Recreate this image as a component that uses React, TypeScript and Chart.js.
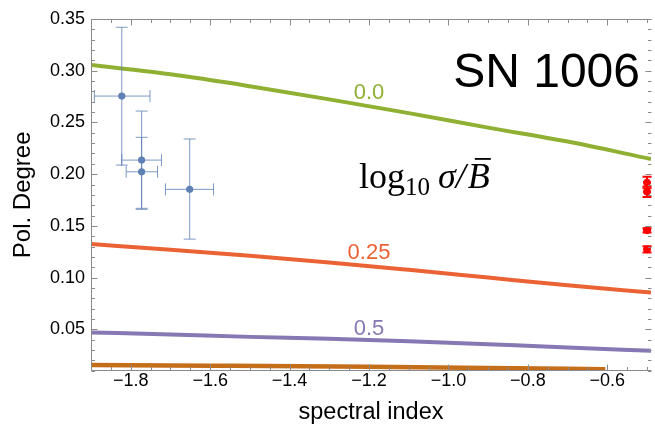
import React, { useEffect, useRef } from 'react';
import { Chart, registerables } from 'chart.js';

Chart.register(...registerables);

// ---- data ----
const curveX = [-1.9, -1.7, -1.5, -1.3, -1.1, -0.9, -0.7, -0.49];
const curve00 = [0.3055, 0.2965, 0.285, 0.2723, 0.259, 0.245, 0.2315, 0.2146];
const curve025 = [0.1324, 0.127, 0.1212, 0.1147, 0.1075, 0.1, 0.0925, 0.0855];
const curve05 = [0.047, 0.045, 0.0427, 0.041, 0.0385, 0.0355, 0.0325, 0.0292];
const curveBottomX = [-1.9, -1.6, -1.2, -0.9, -0.605];
const curveBottom = [0.0155, 0.0149, 0.0139, 0.0127, 0.0113];

const obsX = [-1.8225, -1.7725, -1.7725, -1.6515];
const obsY = [0.2755, 0.2136, 0.2023, 0.1853];
const obsYLow = [0.2088, 0.166, 0.167, 0.1372];
const obsYHigh = [0.342, 0.261, 0.2356, 0.234];
const obsXLow = [-1.8915, -1.8225, -1.8115, -1.7125];
const obsXHigh = [-1.7515, -1.7225, -1.7325, -1.5915];

const simX = [-0.5, -0.5, -0.5, -0.5];
const simY = [0.192, 0.183, 0.1457, 0.1273];
const simYErr = [0.0055, 0.005, 0.002, 0.003];
const simXErr = [0.01, 0.01, 0.01, 0.01];

const xTicks = [-1.8, -1.6, -1.4, -1.2, -1.0, -0.8, -0.6];
const yTicks = [0.05, 0.1, 0.15, 0.2, 0.25, 0.3, 0.35];

const curveLabels = ['0.0', '0.25', '0.5'];
const curveLabelX = [-1.2, -1.2, -1.2];
const curveLabelY = [0.2726, 0.1179, 0.0444];

const titleText = 'SN 1006';
const titleX = -0.988;
const titleY = 0.2842;
const formulaX = -1.225;
const formulaY = 0.1866;

const GREEN = '#8FB032';
const RED = '#EB6235';
const PURPLE = '#8778B3';
const DORANGE = '#C56E1A';
const BLUE = '#5E81B5';
const SANS = '"Liberation Sans", Arial, Helvetica, sans-serif';
const SERIF = '"Liberation Serif", "Times New Roman", serif';
const labelColors = [GREEN, RED, PURPLE];

const toXY = (xs: number[], ys: number[]) => xs.map((x, i) => ({ x, y: ys[i] }));

const decorPlugin = {
  id: 'decor',
  beforeDatasetDraw(chart: any, args: any) {
    const ctx = chart.ctx;
    const xs = chart.scales.x;
    const ys = chart.scales.y;
    if (args.index === 0) {
      ctx.save();
      ctx.strokeStyle = 'rgba(94,129,181,0.8)';
      ctx.lineWidth = 1;
      const cap = 6;
      obsX.forEach((x, i) => {
        const px = xs.getPixelForValue(x);
        const py = ys.getPixelForValue(obsY[i]);
        const yl = ys.getPixelForValue(obsYLow[i]);
        const yh = ys.getPixelForValue(obsYHigh[i]);
        const xl = xs.getPixelForValue(obsXLow[i]);
        const xh = xs.getPixelForValue(obsXHigh[i]);
        ctx.beginPath();
        ctx.moveTo(px, yl); ctx.lineTo(px, yh);
        ctx.moveTo(px - cap, yl); ctx.lineTo(px + cap, yl);
        ctx.moveTo(px - cap, yh); ctx.lineTo(px + cap, yh);
        ctx.moveTo(xl, py); ctx.lineTo(xh, py);
        ctx.moveTo(xl, py - cap); ctx.lineTo(xl, py + cap);
        ctx.moveTo(xh, py - cap); ctx.lineTo(xh, py + cap);
        ctx.stroke();
      });
      ctx.restore();
    }
    if (args.index === 1) {
      ctx.save();
      ctx.strokeStyle = 'rgb(255,0,0)';
      ctx.lineWidth = 2;
      const cap = 4.5;
      simX.forEach((x, i) => {
        const px = xs.getPixelForValue(x);
        const py = ys.getPixelForValue(simY[i]);
        const yl = ys.getPixelForValue(simY[i] - simYErr[i]);
        const yh = ys.getPixelForValue(simY[i] + simYErr[i]);
        const xl = xs.getPixelForValue(x - simXErr[i]);
        const xh = xs.getPixelForValue(x + simXErr[i]);
        ctx.beginPath();
        ctx.moveTo(px, yl); ctx.lineTo(px, yh);
        ctx.moveTo(px - cap, yl); ctx.lineTo(px + cap, yl);
        ctx.moveTo(px - cap, yh); ctx.lineTo(px + cap, yh);
        ctx.moveTo(xl, py); ctx.lineTo(xh, py);
        ctx.stroke();
      });
      ctx.restore();
    }
  },
  afterDatasetsDraw(chart: any) {
    const ctx = chart.ctx;
    const { left, right, top, bottom } = chart.chartArea;
    const xs = chart.scales.x;
    const ys = chart.scales.y;
    const L = Math.round(left) + 0.5;
    const R = Math.round(right) + 0.5;
    const T = Math.round(top) + 0.5;
    const B = Math.round(bottom) - 0.5;
    ctx.save();
    ctx.strokeStyle = '#8a8a8a';
    ctx.lineWidth = 1;
    ctx.beginPath();
    ctx.moveTo(L, T); ctx.lineTo(R, T);
    ctx.moveTo(L, B); ctx.lineTo(R, B);
    ctx.moveTo(L, T); ctx.lineTo(L, B);
    // x ticks (major every 0.2, minor every 0.05)
    for (let k = -38; k <= -10; k++) {
      const v = k * 0.05;
      if (v < xs.min - 1e-9 || v > xs.max + 1e-9) continue;
      const major = k % 4 === 0;
      const len = major ? 6 : 3.5;
      const p = Math.round(xs.getPixelForValue(v)) + 0.5;
      ctx.moveTo(p, B); ctx.lineTo(p, B - len);
      ctx.moveTo(p, T); ctx.lineTo(p, T + len);
    }
    // y ticks (major every 0.05, minor every 0.01)
    for (let k = 1; k <= 35; k++) {
      const v = k * 0.01;
      const major = k % 5 === 0;
      const len = major ? 6 : 3.5;
      const p = Math.round(ys.getPixelForValue(v)) + 0.5;
      ctx.moveTo(L, p); ctx.lineTo(L + len, p);
      ctx.moveTo(R, p); ctx.lineTo(R - len, p);
    }
    ctx.stroke();
    ctx.restore();
  },
  afterDraw(chart: any) {
    const ctx = chart.ctx;
    const xs = chart.scales.x;
    const ys = chart.scales.y;
    ctx.save();
    ctx.textBaseline = 'alphabetic';
    // curve labels
    ctx.textAlign = 'center';
    ctx.font = `22px ${SANS}`;
    curveLabels.forEach((t, i) => {
      ctx.fillStyle = labelColors[i];
      ctx.fillText(t, xs.getPixelForValue(curveLabelX[i]), ys.getPixelForValue(curveLabelY[i]));
    });
    // title
    ctx.textAlign = 'left';
    ctx.fillStyle = '#000';
    ctx.font = `48px ${SANS}`;
    ctx.fillText(titleText, xs.getPixelForValue(titleX), ys.getPixelForValue(titleY));
    // formula log10 sigma / B-bar
    let x = xs.getPixelForValue(formulaX);
    const y = ys.getPixelForValue(formulaY);
    ctx.font = `36px ${SERIF}`;
    ctx.fillText('log', x, y);
    x += ctx.measureText('log').width;
    ctx.font = `25px ${SERIF}`;
    ctx.fillText('10', x, y + 7);
    x += ctx.measureText('10').width + 8;
    ctx.font = `italic 36px ${SERIF}`;
    ctx.fillText('σ', x, y);
    x += ctx.measureText('σ').width;
    ctx.fillText('/', x, y);
    x += ctx.measureText('/').width + 2;
    const bw = ctx.measureText('B').width;
    ctx.fillText('B', x, y);
    ctx.fillRect(x + 7, y - 30, bw - 6, 1.8);
    ctx.restore();
  },
};

export default function App() {
  const ref = useRef<HTMLCanvasElement | null>(null);
  useEffect(() => {
    document.body.style.margin = '0';
    const canvas = ref.current;
    if (!canvas) return;
    const chart = new Chart(canvas, {
      type: 'scatter',
      data: {
        datasets: [
          {
            label: 'obs',
            data: toXY(obsX, obsY),
            backgroundColor: BLUE,
            borderColor: BLUE,
            pointRadius: 3.6,
            pointBorderWidth: 0,
            showLine: false,
          },
          {
            label: 'sim',
            data: toXY(simX, simY),
            backgroundColor: 'rgb(255,0,0)',
            borderColor: 'rgb(255,0,0)',
            pointRadius: 3.8,
            pointBorderWidth: 0,
            showLine: false,
            clip: false,
          },
          {
            label: '0.0',
            data: toXY(curveX, curve00),
            borderColor: GREEN,
            borderWidth: 4,
            pointRadius: 0,
            showLine: true,
            cubicInterpolationMode: 'monotone',
            clip: 0,
          },
          {
            label: '0.25',
            data: toXY(curveX, curve025),
            borderColor: RED,
            borderWidth: 4,
            pointRadius: 0,
            showLine: true,
            cubicInterpolationMode: 'monotone',
            clip: 0,
          },
          {
            label: '0.5',
            data: toXY(curveX, curve05),
            borderColor: PURPLE,
            borderWidth: 4,
            pointRadius: 0,
            showLine: true,
            cubicInterpolationMode: 'monotone',
            clip: 0,
          },
          {
            label: 'bottom',
            data: toXY(curveBottomX, curveBottom),
            borderColor: DORANGE,
            borderWidth: 4.5,
            pointRadius: 0,
            showLine: true,
            cubicInterpolationMode: 'monotone',
            clip: 0,
          },
        ],
      } as any,
      options: {
        responsive: false,
        animation: false,
        devicePixelRatio: 1,
        layout: { padding: { top: 19, left: 0, right: 0, bottom: 0 } },
        plugins: { legend: { display: false }, tooltip: { enabled: false } },
        scales: {
          x: {
            type: 'linear',
            min: -1.9,
            max: -0.49,
            afterBuildTicks: (s: any) => {
              s.ticks = xTicks.map((v) => ({ value: v }));
            },
            afterFit: (s: any) => {
              s.height = 59.3;
              s.paddingRight = 0;
            },
            grid: { display: false, drawTicks: false },
            border: { display: false },
            ticks: {
              autoSkip: false,
              maxRotation: 0,
              padding: 0,
              color: '#000',
              font: { family: SANS, size: 18 },
              callback: (v: any) => (Number(v) < 0 ? '\u2212' : '') + Math.abs(Number(v)).toFixed(1),
            },
            title: {
              display: true,
              text: 'spectral index',
              color: '#000',
              font: { family: SANS, size: 23.5 },
              padding: { top: 0, bottom: 3 },
            },
          },
          y: {
            type: 'linear',
            min: 0.01,
            max: 0.35,
            afterBuildTicks: (s: any) => {
              s.ticks = yTicks.map((v) => ({ value: v }));
            },
            afterFit: (s: any) => {
              s.width = 91;
            },
            grid: { display: false, drawTicks: false },
            border: { display: false },
            ticks: {
              autoSkip: false,
              padding: 6,
              color: '#000',
              font: { family: SANS, size: 18 },
              callback: (v: any) => Number(v).toFixed(2),
            },
            title: {
              display: true,
              text: 'Pol. Degree',
              color: '#000',
              font: { family: SANS, size: 24 },
              padding: { top: 9, bottom: 0 },
            },
          },
        },
      } as any,
      plugins: [decorPlugin],
    });
    return () => chart.destroy();
  }, []);
  return (
    <div style={{ width: 655, height: 430 }}>
      <canvas ref={ref} width={655} height={430} style={{ display: 'block' }} />
    </div>
  );
}
